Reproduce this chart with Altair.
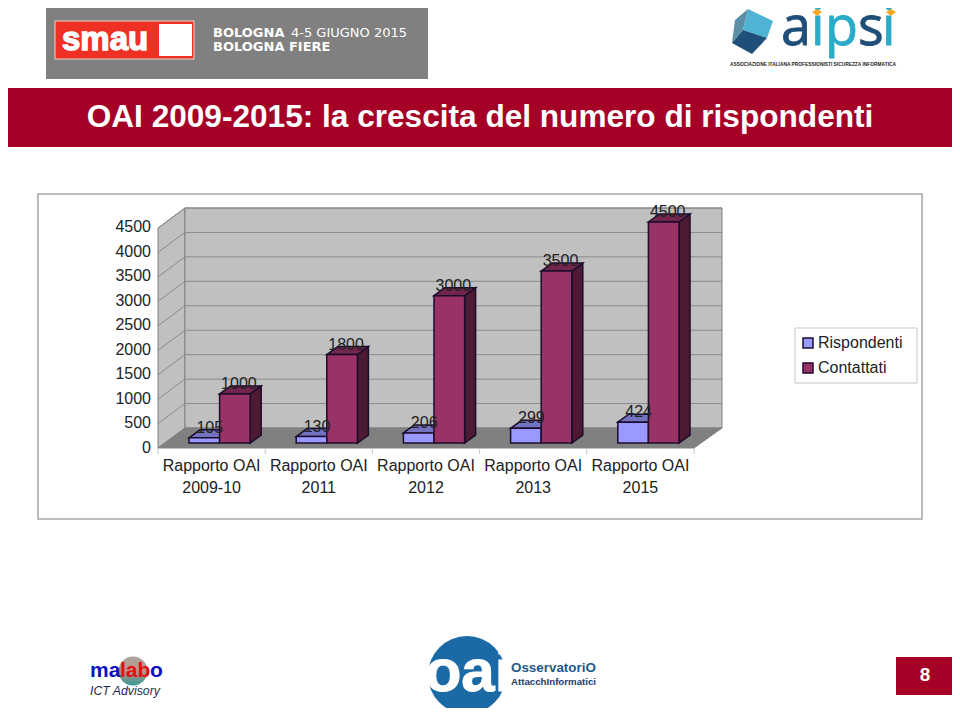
import altair as alt
import pandas as pd

categories = ["Rapporto OAI|2009-10", "Rapporto OAI|2011", "Rapporto OAI|2012", "Rapporto OAI|2013", "Rapporto OAI|2015"]
rispondenti = [105, 130, 206, 299, 424]
contattati = [1000, 1800, 3000, 3500, 4500]
axis_ticks = [0, 500, 1000, 1500, 2000, 2500, 3000, 3500, 4000, 4500]
series_names = ["Rispondenti", "Contattati"]

FONT = "Liberation Sans"
SLOT = 107.2
PXV = 221 / 4500
XS = alt.Scale(domain=[0, 5], range=[150, 686])
YS = alt.Scale(domain=[0, 4500], range=[435, 214])

def xd(px):
    return (px - 158) / SLOT

def yd(py):
    return (443 - py) / PXV

X = lambda f="x": alt.X(f"{f}:Q", scale=XS, axis=None, title=None)
Y = lambda f="y": alt.Y(f"{f}:Q", scale=YS, axis=None, title=None, stack=None)

def area(rows, fill, stroke, sw=1.0):
    df = pd.DataFrame(rows, columns=["id", "x", "y", "y2"])
    return alt.Chart(df).mark_area(fill=fill, stroke=stroke, strokeWidth=sw, opacity=1, interpolate="linear").encode(
        x=X(), y=Y(), y2="y2:Q", detail="id:N")

def lines(rows, color, sw=1.0):
    df = pd.DataFrame(rows, columns=["id", "x", "y"])
    return alt.Chart(df).mark_line(color=color, strokeWidth=sw).encode(x=X(), y=Y(), detail="id:N")

def rect(x0, y0, x1, y1, fill, stroke=None, sw=1):
    kw = {"stroke": stroke, "strokeWidth": sw} if stroke else {"strokeWidth": 0}
    return alt.Chart().mark_rect(fill=fill, **kw).encode(
        x=alt.value(x0 - 8), x2=alt.value(x1 - 8), y=alt.value(y0 - 8), y2=alt.value(y1 - 8))

def text(s, x, y, size, color="#000000", bold=False, align="left", font=FONT, italic=False, baseline="middle", heavy=0):
    kw = {"stroke": color, "strokeWidth": heavy} if heavy else {}
    return alt.Chart().mark_text(text=s, fontSize=size, color=color, align=align, baseline=baseline, font=font,
                                 fontWeight="bold" if bold else "normal",
                                 fontStyle="italic" if italic else "normal", **kw).encode(
        x=alt.value(x - 8), y=alt.value(y - 8))

def poly(points, fill):
    xs = [p[0] for p in points]
    ys = [p[1] for p in points]
    cx, cy = (min(xs) + max(xs)) / 2, (min(ys) + max(ys)) / 2
    half = max(max(xs) - min(xs), max(ys) - min(ys)) / 2
    path = "M" + "L".join(f"{(px-cx)/half:.3f},{(py-cy)/half:.3f}" for px, py in points) + "Z"
    return alt.Chart().mark_point(shape=path, filled=True, fill=fill, opacity=1, size=(2 * half) ** 2, strokeWidth=0).encode(
        x=alt.value(cx - 8), y=alt.value(cy - 8))

def circle(cx, cy, r, fill):
    return alt.Chart().mark_point(shape="circle", filled=True, fill=fill, opacity=1, size=(2 * r) ** 2, strokeWidth=0).encode(
        x=alt.value(cx - 8), y=alt.value(cy - 8))

layers = []

# slide header
layers += [
    rect(46, 2, 428, 79, "#808080"),
    rect(55, 21, 194, 59, "#ee3124", "#f4d0c8", 1),
    rect(159, 24, 192, 56, "#ffffff"),
    text("smau", 62, 40, 33, "#ffffff", True, heavy=1.4),
    text("BOLOGNA", 213, 33, 13, "#ffffff", True, font="DejaVu Sans"),
    text("4-5 GIUGNO 2015", 291, 33, 13, "#ffffff", font="DejaVu Sans"),
    text("BOLOGNA FIERE", 213, 47, 13, "#ffffff", True, font="DejaVu Sans"),
    poly([(748, 9), (773, 21), (767, 38), (743, 30)], "#4fb3d4"),
    poly([(748, 9), (735, 20), (732, 43), (743, 30)], "#5b8fa8"),
    poly([(732, 43), (743, 30), (767, 38), (752, 54)], "#1f4e79"),
    text("a", 781, 45, 54, "#1f4e79", font="Open Sans", baseline="alphabetic", heavy=0.8),
    text("i", 811, 45, 54, "#29abc9", font="Open Sans", baseline="alphabetic", heavy=0.8),
    text("p", 825, 45, 54, "#29abc9", font="Open Sans", baseline="alphabetic", heavy=0.8),
    text("s", 858, 45, 54, "#1f4e79", font="Open Sans", baseline="alphabetic", heavy=0.8),
    text("i", 882, 45, 54, "#29abc9", font="Open Sans", baseline="alphabetic", heavy=0.8),
    poly([(817, 9), (822, 12), (817, 16), (812, 12)], "#f5a623"),
    poly([(891, 9), (896, 12), (891, 16), (886, 12)], "#f5a623"),
    text("ASSOCIAZIONE ITALIANA PROFESSIONISTI SICUREZZA INFORMATICA", 730, 65, 4.85, "#222222", True),
    rect(8, 88, 956, 147, "#a50026"),
    text("OAI 2009-2015: la crescita del numero di rispondenti", 480, 118, 31.6, "#ffffff", True, "center"),
    rect(38, 194, 922, 519, "#ffffff", "#a6a6a6", 1.5),
    rect(795, 328, 917, 383, "#ffffff", "#c8c8c8", 1),
]

# walls and floor of the 3-D box
layers.append(area([("w", xd(158), yd(228), yd(448)), ("w", xd(185), yd(208), yd(428))], "#c0c0c0", "#808080"))
layers.append(area([("b", xd(185), yd(208), yd(428)), ("b", xd(722), yd(208), yd(428))], "#c0c0c0", "#808080"))
layers.append(area([("f", xd(158), yd(448), yd(448)), ("f", xd(185), yd(428), yd(448)),
                    ("f", xd(694), yd(428), yd(448)), ("f", xd(722), yd(428), yd(428))], "#808080", "#808080"))

grid, leftgrid = [], []
for t in axis_ticks[1:]:
    yv = t * 220 / 4500
    grid += [(t, xd(185), yd(428 - yv)), (t, xd(722), yd(428 - yv))]
    leftgrid += [(t, xd(158), yd(448 - yv)), (t, xd(185), yd(428 - yv))]
layers.append(lines(grid, "#8a8a8a"))
layers.append(lines(leftgrid, "#8a8a8a"))

xt = []
for i in range(6):
    xt += [(i, i, yd(448)), (i, i, yd(454))]
layers.append(lines(xt, "#c8c8c8"))

# bars
DX, DY = 11, 8
W = 30.6
blue_top, red_top, red_side, fronts, labels = [], [], [], [], []
EDGE = "#1c0c2c"
for i in range(len(categories)):
    bl = 158 + SLOT * i + 31
    rl = bl + W
    rr = rl + W
    b, r = rispondenti[i], contattati[i]
    d = DY / PXV
    ddx = DX / SLOT
    blue_top += [(i, xd(bl), b, b), (i, xd(bl) + ddx, b + d, b), (i, xd(rl), b + d, b), (i, xd(rl) + ddx, b + d, b + d)]
    red_top += [(i, xd(rl), r, r), (i, xd(rl) + ddx, r + d, r), (i, xd(rr), r + d, r), (i, xd(rr) + ddx, r + d, r + d)]
    red_side += [(i, xd(rr), r, 0), (i, xd(rr) + ddx, r + d, d)]
    fronts.append(dict(series=series_names[0], x=xd(bl), x2=xd(rl), y=b, y2=0))
    fronts.append(dict(series=series_names[1], x=xd(rl), x2=xd(rr), y=r, y2=0))
    labels.append(dict(x=xd((bl + rl) / 2 + 5.5), y=b, t=str(b)))
    labels.append(dict(x=xd((rl + rr) / 2 + 4), y=r, t=str(r)))

layers.append(area(blue_top, "#7373bf", EDGE, 1.5))
layers.append(area(red_side, "#4d1a33", EDGE, 1.5))
layers.append(area(red_top, "#73264d", EDGE, 1.5))
layers.append(alt.Chart(pd.DataFrame(fronts)).mark_rect(stroke=EDGE, strokeWidth=1.5, opacity=1).encode(
    x=X(), x2="x2:Q", y=Y(), y2="y2:Q",
    color=alt.Color("series:N", sort=series_names,
                    scale=alt.Scale(domain=series_names, range=["#9999ff", "#993366"]),
                    legend=alt.Legend(orient="none", legendX=793 - 8, legendY=328 - 8, title=None, padding=7,
                                      symbolType="square", symbolSize=100, symbolStrokeWidth=1.5,
                                      labelFont=FONT, labelFontSize=16, labelColor="#222222",
                                      rowPadding=9, labelOffset=2, symbolOpacity=1))))
layers.append(alt.Chart(pd.DataFrame(labels)).mark_text(font=FONT, fontSize=16, color="#222222", dy=-10, baseline="middle").encode(
    x=X(), y=Y(), text="t:N"))

# value axis labels
layers.append(alt.Chart(pd.DataFrame({"v": axis_ticks})).mark_text(
    font=FONT, fontSize=16, color="#222222", align="right", baseline="middle", dy=5).encode(
    x=alt.value(151 - 8),
    y=alt.Y("v:Q", scale=YS, axis=None, title=None), text="v:N"))

# category labels
cat_rows = []
for i, c in enumerate(categories):
    a, b = c.split("|")
    cat_rows.append(dict(x=i + 0.5, t=a, py=466 - 8))
    cat_rows.append(dict(x=i + 0.5, t=b, py=488 - 8))
layers.append(alt.Chart(pd.DataFrame(cat_rows)).mark_text(font=FONT, fontSize=16, color="#222222", baseline="middle").encode(
    x=X(), y=alt.Y("py:Q", scale=None, axis=None, title=None), text="t:N"))

# footer
layers += [
    circle(133, 671, 14.5, alt.Gradient(gradient="linear", x1=0, y1=0, x2=0, y2=1,
                                        stops=[alt.GradientStop(offset=0, color="#a8a8a0"),
                                               alt.GradientStop(offset=0.5, color="#c09088"),
                                               alt.GradientStop(offset=1, color="#2f9a98")])),
    text("ma", 90, 671, 21, "#1010c0", True),
    text("lab", 120, 671, 21, "#e01010", True),
    text("o", 150, 671, 21, "#1010c0", True),
    text("ICT Advisory", 90, 691, 12.3, "#1a2a50", italic=True),
    circle(467, 675, 39, "#1b6aa5"),
    text("oai", 468, 691, 60, "#ffffff", True, "center", baseline="alphabetic", heavy=1),
    text("OsservatoriO", 511, 668, 13.4, "#1b5a90", True),
    text("AttacchInformatici", 511, 682, 9.7, "#1b3a70", True),
    rect(896, 657, 956, 695, "#a50026"),
    text("8", 925, 675, 19, "#ffffff", True, "center"),
]

chart = alt.layer(*layers).properties(
    width=944, height=700, padding=0, autosize=alt.AutoSizeParams(type="none")
).configure_view(stroke=None)

chart.save("out.html", embed_options={"renderer": "svg", "actions": False})
